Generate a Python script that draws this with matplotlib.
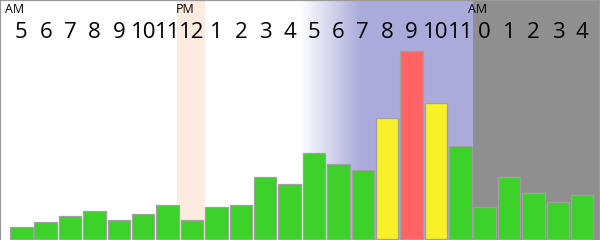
import numpy as np
import matplotlib.pyplot as plt
from matplotlib.colors import LinearSegmentedColormap

plt.rcParams['font.family'] = ['Open Sans', 'DejaVu Sans']

hours = ['5', '6', '7', '8', '9', '10', '11', '12', '1', '2', '3', '4',
         '5', '6', '7', '8', '9', '10', '11', '0', '1', '2', '3', '4']
counts = [12, 17, 23, 28, 19, 25, 34, 19, 32, 34, 62, 55,
          86, 75, 69, 121, 188, 136, 93, 32, 62, 46, 37, 44]
# peak hours are highlighted
bar_colors = ['#3cd22a'] * 24
bar_colors[15] = '#f8f028'
bar_colors[16] = '#ff6464'
bar_colors[17] = '#f8f028'
meridiem = [(0, 'AM'), (7, 'PM'), (19, 'AM')]

fig = plt.figure(figsize=(6, 2.4), dpi=100)
ax = fig.add_axes([0, 0, 1, 1])
x = np.arange(len(counts))
ax.set_xlim(-0.873, 23.727)
ax.set_ylim(-1, 239)

# background bands: noon, evening fade to blue, night
ax.axvspan(6.4, 7.53, color='#fdebe0', zorder=0, lw=0)
fade = LinearSegmentedColormap.from_list('fade', ['#ffffff', '#ababdb'])
ax.imshow(np.linspace(0, 1, 256)[None, :], cmap=fade, aspect='auto',
          extent=(11.42, 13.9, -1, 239), zorder=0)
ax.axvspan(13.89, 18.5, color='#ababdb', zorder=0, lw=0)
ax.axvspan(18.5, 24, color='#8f8f8f', zorder=0, lw=0)

ax.bar(x, counts, width=0.92, color=bar_colors, edgecolor='#a0a0a0',
       linewidth=0.9, zorder=2)

for i, h in enumerate(hours):
    ax.text(i, 201.5, h, ha='center', va='baseline', fontsize=16,
            color='black')
for i, m in meridiem:
    ax.text(i - 0.68, 226, m, ha='left', va='baseline', fontsize=9, color='black')

ax.set_xticks([])
ax.set_yticks([])
for side in ['left', 'top', 'right']:
    ax.spines[side].set_color('#999999')
    ax.spines[side].set_linewidth(1.6)
ax.spines['bottom'].set_visible(False)

fig.savefig('out.png', dpi=100)
